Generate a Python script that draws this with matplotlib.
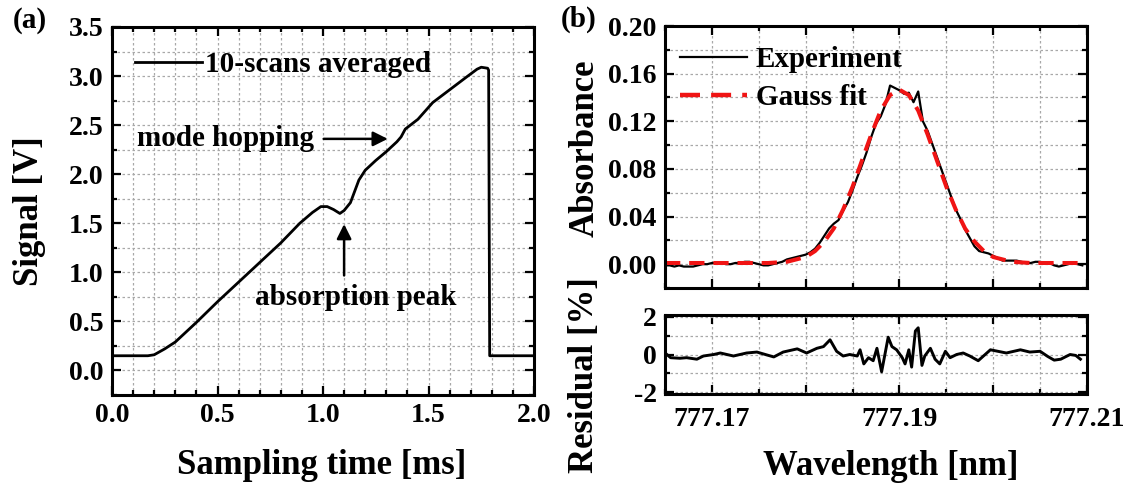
import numpy as np
import matplotlib.pyplot as plt
from matplotlib.ticker import MultipleLocator, FormatStrFormatter, FuncFormatter
from matplotlib.lines import Line2D

plt.rcParams["font.family"] = ["Liberation Serif", "DejaVu Serif"]
plt.rcParams["font.weight"] = "bold"
plt.rcParams["axes.unicode_minus"] = False

# ---- (a) 10-scans averaged signal ----
time_ms = [0.00, 0.17, 0.20, 0.25, 0.30, 0.35, 0.40, 0.50, 0.60, 0.70, 0.80, 0.89,
           0.95, 0.99, 1.02, 1.05, 1.08, 1.10, 1.13, 1.17, 1.20, 1.25, 1.30, 1.35,
           1.37, 1.39, 1.45, 1.52, 1.60, 1.68, 1.73, 1.75, 1.78, 1.785, 1.79, 2.00]
signal_v = [0.15, 0.15, 0.16, 0.22, 0.29, 0.39, 0.49, 0.70, 0.90, 1.10, 1.30, 1.50,
            1.61, 1.67, 1.67, 1.64, 1.60, 1.63, 1.71, 1.94, 2.04, 2.14, 2.23, 2.33,
            2.38, 2.46, 2.56, 2.73, 2.86, 2.99, 3.07, 3.09, 3.08, 3.06, 0.15, 0.15]

# ---- (b) absorbance spectrum ----
wl_start, wl_step = 777.165, 0.0005
absorb_exp = [-0.001, -0.001, -0.002, -0.001, -0.002, -0.002, -0.002, -0.001, 0.000, 0.000,
              0.001, 0.001, 0.001, 0.000, 0.000, 0.001, 0.001, 0.002, 0.002, 0.001,
              0.000, -0.001, -0.001, 0.000, 0.001, 0.002, 0.004, 0.005, 0.006, 0.007,
              0.008, 0.010, 0.013, 0.018, 0.024, 0.030, 0.034, 0.037, 0.045, 0.052,
              0.062, 0.073, 0.083, 0.094, 0.107, 0.118, 0.124, 0.134, 0.150, 0.148,
              0.146, 0.143, 0.144, 0.136, 0.145, 0.120, 0.112, 0.101, 0.090, 0.079,
              0.068, 0.057, 0.046, 0.038, 0.029, 0.022, 0.015, 0.011, 0.010, 0.009,
              0.007, 0.005, 0.003, 0.003, 0.003, 0.003, 0.002, 0.001, 0.001, 0.002,
              0.002, 0.001, 0.001, -0.001, -0.002, -0.001, 0.000, 0.001, 0.000, -0.001]
wl_exp = wl_start + wl_step * np.arange(len(absorb_exp))

fit_step = 0.001
absorb_fit = [0.001, 0.001, 0.001, 0.001, 0.001, 0.001, 0.001, 0.001, 0.001, 0.001,
              0.001, 0.001, 0.0015, 0.002, 0.004, 0.006, 0.011, 0.019, 0.030, 0.046,
              0.065, 0.087, 0.109, 0.129, 0.142, 0.1465, 0.142, 0.129, 0.109, 0.087,
              0.065, 0.046, 0.030, 0.019, 0.011, 0.006, 0.004, 0.002, 0.0015, 0.001,
              0.001, 0.001, 0.001, 0.001, 0.001]
wl_fit = wl_start + fit_step * np.arange(len(absorb_fit))

res_wl = [777.1652, 777.1656, 777.1666, 777.1673, 777.1684, 777.1691, 777.1702, 777.1709,
          777.1723, 777.1737, 777.1748, 777.1766, 777.1776, 777.1791, 777.1801, 777.1812,
          777.1819, 777.1826, 777.1833, 777.1840, 777.1847, 777.1855, 777.1858, 777.1862,
          777.1867, 777.1872, 777.1876, 777.1881, 777.1888, 777.1892, 777.1897, 777.1903,
          777.1906, 777.1910, 777.1913, 777.1917, 777.1920, 777.1924, 777.1927, 777.1933,
          777.1938, 777.1943, 777.1949, 777.1954, 777.1961, 777.1968, 777.1975, 777.1984,
          777.1997, 777.2014, 777.2029, 777.2039, 777.2050, 777.2058, 777.2065, 777.2072,
          777.2082, 777.2088, 777.2093]
res_pct = [0.00, -0.17, -0.20, -0.17, -0.25, -0.08, 0.00, 0.08,
           -0.08, 0.08, 0.13, -0.13, 0.13, 0.30, 0.08, 0.33,
           0.42, 0.78, 0.17, -0.08, 0.00, -0.08, 0.25, -0.50,
           -0.17, -0.33, 0.33, -0.92, 0.92, 0.42, 0.25, -0.17,
           -0.50, 0.25, -0.67, 1.25, 1.42, -0.58, -0.08, 0.33,
           -0.25, -0.50, 0.17, -0.17, 0.00, 0.08, -0.08, -0.33,
           0.25, 0.08, 0.25, 0.13, 0.17, -0.10, -0.30, -0.25,
           0.00, -0.05, -0.25]

W, H = 1128, 490
RED = "#f01414"
fig = plt.figure(figsize=(W / 100, H / 100), dpi=100)


def px_axes(l, t, r, b):
    return fig.add_axes([l / W, 1 - b / H, (r - l) / W, (b - t) / H])


def style(ax):
    for s in ax.spines.values():
        s.set_linewidth(2.2)
    ax.tick_params(which="both", direction="in", top=True, right=True,
                   labelsize=20, width=1.6, pad=6)
    ax.tick_params(which="major", length=6.5)
    ax.tick_params(which="minor", length=3.5)
    ax.grid(which="both", color="#a8a8a8", linestyle=(0, (2, 2)), linewidth=0.9)
    ax.set_axisbelow(True)


# panel (a)
ax1 = px_axes(112, 27, 534, 395)
style(ax1)
ax1.plot(time_ms, signal_v, color="black", lw=2.0, label="10-scans averaged")
ax1.set_xlim(0, 2.0)
ax1.set_ylim(-0.25, 3.5)
ax1.xaxis.set_major_locator(MultipleLocator(0.5))
ax1.xaxis.set_minor_locator(MultipleLocator(0.1))
ax1.yaxis.set_major_locator(MultipleLocator(0.5))
ax1.yaxis.set_minor_locator(MultipleLocator(0.25))
ax1.xaxis.set_major_formatter(FormatStrFormatter("%.1f"))
ax1.yaxis.set_major_formatter(FormatStrFormatter("%.1f"))
ax1.legend(loc="upper left", bbox_to_anchor=(0.054, 0.934), frameon=False,
           fontsize=21, handlelength=2.3, handletextpad=0.1, borderpad=0, borderaxespad=0)
ax1.text(0.12, 2.36, "mode hopping", fontsize=21, ha="left", va="center")
ax1.annotate("", xy=(1.32, 2.36), xytext=(0.99, 2.36),
             arrowprops=dict(arrowstyle="-|>", color="black", lw=1.8, mutation_scale=22))
ax1.text(1.157, 0.74, "absorption peak", fontsize=21, ha="center", va="center")
ax1.annotate("", xy=(1.10, 1.52), xytext=(1.10, 0.94),
             arrowprops=dict(arrowstyle="-|>", color="black", lw=1.8, mutation_scale=22))

# panel (b) top
ax2 = px_axes(665, 26, 1087, 288)
style(ax2)
ax2.plot(wl_exp, absorb_exp, color="black", lw=1.6)
ax2.plot(wl_fit, absorb_fit, color=RED, lw=2.9, dashes=(3.8, 2.2))
ax2.set_ylim(-0.02, 0.20)
ax2.yaxis.set_major_locator(MultipleLocator(0.04))
ax2.yaxis.set_minor_locator(MultipleLocator(0.02))
ax2.yaxis.set_major_formatter(FormatStrFormatter("%.2f"))
handles = [Line2D([], [], color="black", lw=1.6),
           Line2D([], [], color=RED, lw=3.2, dashes=(4.5, 2.5))]
ax2.legend(handles, ["Experiment", "Gauss fit"], loc="upper left",
           bbox_to_anchor=(0.036, 0.922), frameon=False, fontsize=21,
           handlelength=2.3, handletextpad=0.3, labelspacing=0.36,
           borderpad=0, borderaxespad=0)

# panel (b) residual
ax3 = px_axes(665, 315, 1087, 394)
style(ax3)
ax3.plot(res_wl, res_pct, color="black", lw=2.1)
ax3.set_ylim(-2.1, 2.1)
ax3.yaxis.set_major_locator(MultipleLocator(2))
ax3.yaxis.set_minor_locator(MultipleLocator(1))
ax3.yaxis.set_major_formatter(FormatStrFormatter("%d"))

for ax in (ax2, ax3):
    ax.set_xlim(777.165, 777.21)
    ax.xaxis.set_major_locator(MultipleLocator(0.01))
    ax.xaxis.set_minor_locator(MultipleLocator(0.005))
ax2.tick_params(axis="x", labelbottom=False)
ax3.xaxis.set_major_formatter(FuncFormatter(
    lambda v, p: f"{v:.2f}" if abs(round((v - 777.17) / 0.02) * 0.02 - (v - 777.17)) < 1e-6 else ""))
ax3.tick_params(axis="x", pad=9)

# axis titles and panel labels
fig.text(29 / W, 1 - 211 / H, "Signal [V]", fontsize=25, rotation=90, ha="center", va="center")
fig.text(322 / W, 1 - 465 / H, "Sampling time [ms]", fontsize=25, ha="center", va="center")
fig.text(585 / W, 1 - 148 / H, "Absorbance", fontsize=25, rotation=90, ha="center", va="center")
fig.text(585 / W, 1 - 375 / H, "Residual [%]", fontsize=25, rotation=90, ha="center", va="center")
fig.text(891 / W, 1 - 466 / H, "Wavelength [nm]", fontsize=25, ha="center", va="center")
fig.text(30 / W, 1 - 20 / H, "(a)", fontsize=21, ha="center", va="center")
fig.text(579 / W, 1 - 19 / H, "(b)", fontsize=21, ha="center", va="center")

fig.savefig("out.png", dpi=100)
